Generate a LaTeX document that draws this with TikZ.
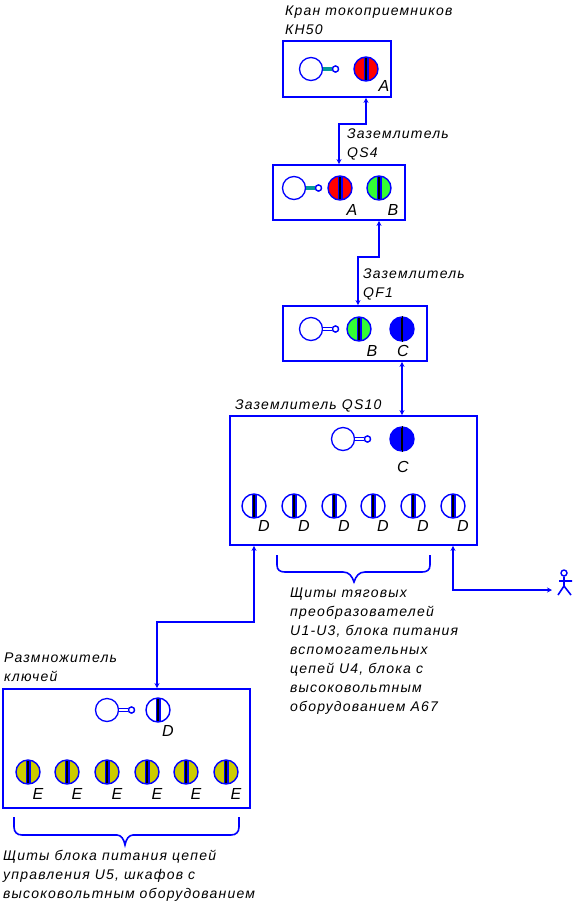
\documentclass[tikz,border=0pt]{standalone}
\definecolor{azul}{RGB}{0,0,255}
\definecolor{rojo}{RGB}{255,0,0}
\definecolor{verde}{RGB}{51,255,51}
\definecolor{oliva}{RGB}{204,204,0}
\definecolor{teal2}{RGB}{0,153,153}
\usepackage{fontspec}
\setmainfont[LetterSpace=8.6]{Liberation Sans}
\usepackage{tikz}
\usetikzlibrary{arrows.meta,positioning,calc}
\tikzset{
  panel/.style={draw=azul,line width=1.8pt,inner sep=0pt,fill=white},
  lamp/.style={circle,draw=azul,line width=1.4pt,fill=#1,minimum size=24pt,inner sep=0pt,
    path picture={
      \draw[azul,line width=5pt] (path picture bounding box.south)--(path picture bounding box.north);
      \draw[black,line width=1.2pt] (path picture bounding box.south)--(path picture bounding box.north);}},
  hub/.style={circle,draw=azul,line width=1.3pt,fill=white,minimum size=23pt,inner sep=0pt},
  knob/.style={circle,draw=azul,line width=1.3pt,fill=white,minimum size=6pt,inner sep=0pt},
  link/.style={azul,line width=1.8pt,{Stealth[length=5pt,width=5pt]}-{Stealth[length=5pt,width=5pt]}},
  note/.style={font=\itshape\fontsize{14}{19}\selectfont,align=left,inner sep=0pt,anchor=base west},
  tag/.style={font=\itshape\fontsize{16}{16}\selectfont,inner sep=0pt},
  brace/.style={azul,line width=1.6pt},
}
\newcommand{\handle}[5]{% name, x, y, fill, outline
  \node[knob] (#1k) at (#2+24.5,#3) {};
  \node[hub] (#1h) at (#2,#3) {};
  \draw[#5,line width=1pt,double=#4,double distance=2.4pt] (#1h) -- (#1k);
  \node[knob] at (#1k) {};
}
\begin{document}
\begin{tikzpicture}[x=1pt,y=-1pt]
  \useasboundingbox (0,0) rectangle (574,906);

  \node[panel,minimum width=108pt,minimum height=56pt] (kh) at (337,69) {};
  \node[panel,minimum width=132pt,minimum height=55pt] (qsf) at (339,192.5) {};
  \node[panel,minimum width=144pt,minimum height=55pt] (qf) at (355,333.5) {};
  \node[panel,minimum width=247pt,minimum height=129pt] (qst) at (353.5,480.5) {};
  \node[panel,minimum width=247pt,minimum height=119pt] (mul) at (126.5,748.5) {};

  % titles
  \node[note] (tkh) at (285,34) {Кран токоприемников\\КН50};
  \node[note] (tqsf) at (347,157) {Заземлитель\\QS4};
  \node[note] (tqf) at (363,297) {Заземлитель\\QF1};
  \node[note] (tqst) at (235,409) {Заземлитель QS10};
  \node[note] (tmul) at (4,681) {Размножитель\\ключей};
  \node[note] (ttyag) at (290,711) {Щиты тяговых\\преобразователей\\U1-U3, блока питания\\вспомогательных\\цепей U4, блока с\\высоковольтным\\оборудованием А67};
  \node[note] (tupr) at (3,898) {Щиты блока питания цепей\\управления U5, шкафов с\\высоковольтным оборудованием};

  % KH50
  \handle{a}{311}{69}{teal2}{teal2}
  \node[lamp=rojo] (ka) at (366,69) {};
  \node[tag] (lka) at (384,86) {A};

  % QS4
  \handle{b}{294}{188}{teal2}{teal2}
  \node[lamp=rojo] (sa) at (340,188) {};
  \node[lamp=verde] (sb) at (379,188) {};
  \node[tag] (lsa) at (352,210) {A};
  \node[tag] (lsb) at (393,210) {B};

  % QF1
  \handle{c}{311}{329}{white}{azul}
  \node[lamp=verde] (fb) at (359,329) {};
  \node[lamp=azul] (fc) at (402,329) {};
  \draw[black,line width=1pt] (fc.north) -- (fc.south);
  \node[tag] (lfb) at (372,351) {B};
  \node[tag] (lfc) at (403,351) {C};

  % QS10
  \handle{d}{343}{439}{white}{azul}
  \node[lamp=azul] (tc) at (402,439) {};
  \draw[black,line width=1pt] (tc.north) -- (tc.south);
  \node[tag] (ltc) at (403,467) {C};
  \foreach \i/\x in {1/254,2/294,3/334,4/373,5/413,6/453} {
    \node[lamp=white] (td\i) at (\x,506) {};
    \node[tag] (ltd\i) at (\x+10,526) {D};
  }

  % multiplier
  \handle{e}{107}{710}{white}{azul}
  \node[lamp=white] (md) at (158,710) {};
  \node[tag] (lmd) at (168,731) {D};
  \foreach \i/\x in {1/28,2/67,3/107,4/147,5/186,6/226} {
    \node[lamp=oliva] (me\i) at (\x,772) {};
    \node[tag] (lme\i) at (\x+10,794) {E};
  }

  % person
  \node[circle,draw=azul,line width=1.4pt,minimum size=6pt,inner sep=0pt] (head) at (564,573) {};
  \coordinate (man) at (552,590);
  \draw[azul,line width=1.6pt] (head.south) -- (564,586) -- (558,595) (564,586) -- (571,595)
    (559,581) -- (572,581);

  % connectors
  \coordinate (j1) at (339,124);
  \coordinate (j2) at (358,257);
  \coordinate (j3) at (157,622);
  \coordinate (j4) at (453,590);
  \draw[link] (ka |- kh.south) -- (ka |- j1) -- (j1) -- (j1 |- qsf.north);
  \draw[link] (sb |- qsf.south) -- (sb |- j2) -- (j2) -- (j2 |- qf.north);
  \draw[link] (fc.center |- qf.south) -- (fc.center |- qst.north);
  \draw[link] (td1 |- qst.south) -- (td1 |- j3) -- (j3) -- (j3 |- mul.north);
  \draw[link] (td6 |- qst.south) -- (j4) -- (man);

  % braces
  \draw[brace] (277,555) -- (277,565) .. controls (277,570) and (280,572) .. (285,572) -- (343,572)
    .. controls (349,572) and (352,576) .. (354,582) .. controls (356,576) and (359,572) .. (365,572)
    -- (422,572) .. controls (427,572) and (430,570) .. (430,565) -- (430,555);
  \draw[brace] (14,817) -- (14,827) .. controls (14,832) and (17,835) .. (22,835) -- (117,835)
    .. controls (121,835) and (124,839) .. (125,845) .. controls (126,839) and (129,835) .. (133,835)
    -- (231,835) .. controls (236,835) and (239,832) .. (239,827) -- (239,817);
\end{tikzpicture}
\end{document}
